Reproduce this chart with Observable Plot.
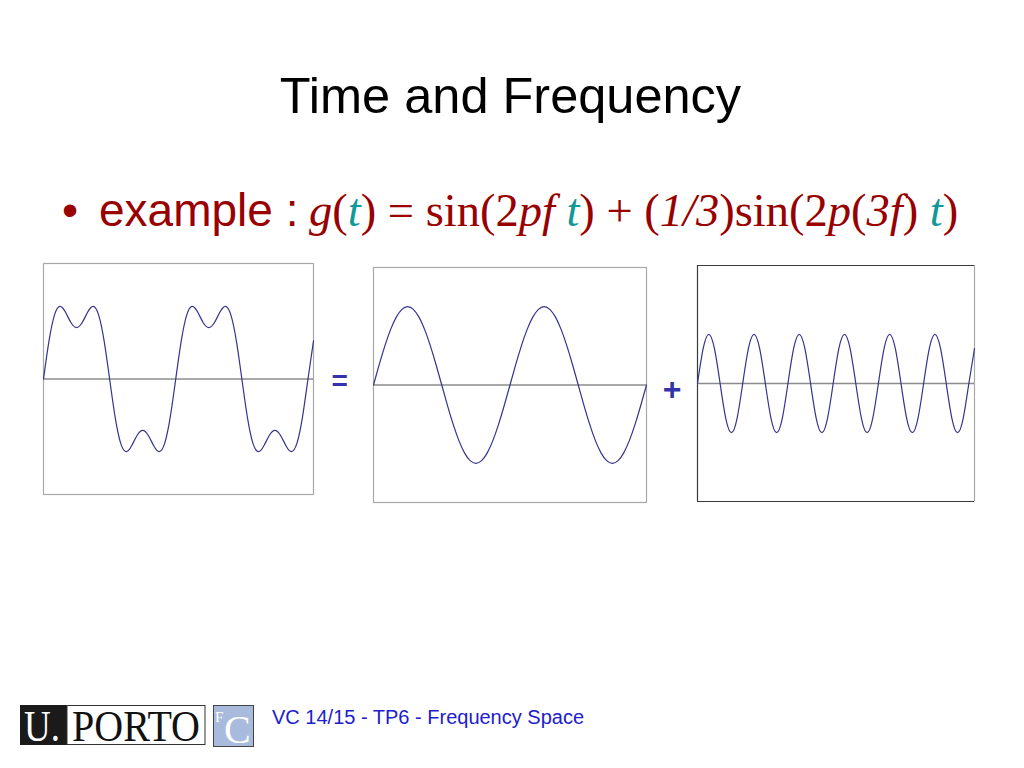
<!DOCTYPE html>
<html>
<head>
<meta charset="utf-8">
<script src="https://cdn.jsdelivr.net/npm/d3@7"></script>
<script src="https://cdn.jsdelivr.net/npm/@observablehq/plot@0.6"></script>
<style>
  html, body { margin: 0; padding: 0; background: #fff; }
  body { width: 1024px; height: 768px; position: relative; overflow: hidden; }
  .chart { position: absolute; }
  #overlay { position: absolute; left: 0; top: 0; }
</style>
</head>
<body>
<svg id="overlay" width="1024" height="768" xmlns="http://www.w3.org/2000/svg">
  <text x="510.5" y="113" text-anchor="middle" font-family="Liberation Sans, Arial, sans-serif" font-size="50.5" fill="#000">Time and Frequency</text>
  <text x="70" y="226" text-anchor="middle" font-family="Liberation Sans, Arial, sans-serif" font-size="46" fill="#990000">•</text>
  <text x="99" y="226" font-family="Liberation Sans, Arial, sans-serif" font-size="46" fill="#990000" style="white-space:pre">example :</text>
  <text x="309" y="226" font-family="Liberation Serif, Times New Roman, serif" font-size="46.5" fill="#990000" style="white-space:pre"><tspan font-style="italic">g</tspan><tspan>(</tspan><tspan font-style="italic" fill="#119999">t</tspan><tspan>) = sin(2</tspan><tspan font-style="italic">pf </tspan><tspan font-style="italic" fill="#119999">t</tspan><tspan>) + (</tspan><tspan font-style="italic">1/3</tspan><tspan>)sin(2</tspan><tspan font-style="italic">p</tspan><tspan>(</tspan><tspan font-style="italic">3f</tspan><tspan>) </tspan><tspan font-style="italic" fill="#119999">t</tspan><tspan>)</tspan></text>
  <text x="339.7" y="390" text-anchor="middle" font-family="Liberation Sans, Arial, sans-serif" font-weight="bold" font-size="28" fill="#3333aa">=</text>
  <text x="672" y="400" text-anchor="middle" font-family="Liberation Sans, Arial, sans-serif" font-weight="bold" font-size="32" fill="#3333aa">+</text>
  <rect x="20" y="705" width="47" height="40" fill="#1a1a1a"/>
  <rect x="67" y="705.5" width="138" height="39" fill="#fff" stroke="#333" stroke-width="1"/>
  <text x="24" y="741" font-family="Liberation Serif, Times New Roman, serif" font-size="44" fill="#fff" textLength="36" lengthAdjust="spacingAndGlyphs">U.</text>
  <text x="72" y="741" font-family="Liberation Serif, Times New Roman, serif" font-size="44" fill="#111" textLength="128" lengthAdjust="spacingAndGlyphs">PORTO</text>
  <rect x="213.5" y="705.5" width="40" height="41" fill="#a8bbdc" stroke="#444" stroke-width="1"/>
  <text x="215" y="722" font-family="Liberation Serif, Times New Roman, serif" font-size="15" fill="#fff">F</text>
  <text x="224" y="743" font-family="Liberation Serif, Times New Roman, serif" font-size="40" fill="#fff">C</text>
  <text x="272" y="724" font-family="Liberation Sans, Arial, sans-serif" font-size="20" fill="#2020cc">VC 14/15 - TP6 - Frequency Space</text>
</svg>
<div id="c1" class="chart" style="left:41px; top:261px;"></div>
<div id="c2" class="chart" style="left:371px; top:265px;"></div>
<div id="c3" class="chart" style="left:695px; top:263px;"></div>
<script>
const sumWave = [
  0, 0.495, 0.833, 0.943, 0.866, 0.730, 0.667, 0.730, 0.866, 0.943, 0.833, 0.495,
  0, -0.495, -0.833, -0.943, -0.866, -0.730, -0.667, -0.730, -0.866, -0.943, -0.833, -0.495,
  0, 0.495, 0.833, 0.943, 0.866, 0.730, 0.667, 0.730, 0.866, 0.943, 0.833, 0.495,
  0, -0.495, -0.833, -0.943, -0.866, -0.730, -0.667, -0.730, -0.866, -0.943, -0.833, -0.495,
  0, 0.495
];
const fundamentalWave = [
  0, 0.259, 0.5, 0.707, 0.866, 0.966, 1, 0.966, 0.866, 0.707, 0.5, 0.259,
  0, -0.259, -0.5, -0.707, -0.866, -0.966, -1, -0.966, -0.866, -0.707, -0.5, -0.259,
  0, 0.259, 0.5, 0.707, 0.866, 0.966, 1, 0.966, 0.866, 0.707, 0.5, 0.259,
  0, -0.259, -0.5, -0.707, -0.866, -0.966, -1, -0.966, -0.866, -0.707, -0.5, -0.259,
  0
];
const harmonicWave = [
  0, 0.236, 0.333, 0.236, 0, -0.236, -0.333, -0.236,
  0, 0.236, 0.333, 0.236, 0, -0.236, -0.333, -0.236,
  0, 0.236, 0.333, 0.236, 0, -0.236, -0.333, -0.236,
  0, 0.236, 0.333, 0.236, 0, -0.236, -0.333, -0.236,
  0, 0.236, 0.333, 0.236, 0, -0.236, -0.333, -0.236,
  0, 0.236, 0.333, 0.236, 0, -0.236, -0.333, -0.236,
  0, 0.236
];

const waveColor = "#34348c";
const axisColor = "#8c8c8c";
const frameColor = "#a8a8a8";

function panel(values, opts) {
  const n = values.length - 1;
  return Plot.plot({
    width: opts.width,
    height: opts.height,
    margin: 2,
    x: { domain: [0, n], axis: null },
    y: { domain: [-opts.ymax, opts.ymax], axis: null },
    marks: [
      ...(opts.darkFrame
        ? [
            Plot.ruleY([-opts.ymax, opts.ymax], { stroke: "#3a3a3a", strokeWidth: 1.2 }),
            Plot.ruleX([0], { stroke: "#3a3a3a", strokeWidth: 1.2 }),
            Plot.ruleX([n], { stroke: frameColor, strokeWidth: 1.2 })
          ]
        : [Plot.frame({ stroke: frameColor, strokeWidth: 1.2 })]),
      Plot.ruleY([0], { stroke: axisColor, strokeWidth: 1.3 }),
      Plot.lineY(values, { stroke: waveColor, strokeWidth: 1.2, curve: "natural" })
    ]
  });
}

document.getElementById("c1").append(panel(sumWave, { width: 274, height: 235, ymax: 1.5 }));
document.getElementById("c2").append(panel(fundamentalWave, { width: 277, height: 239, ymax: 1.5 }));
document.getElementById("c3").append(panel(harmonicWave, { width: 281, height: 240, ymax: 0.8, darkFrame: true }));
</script>
</body>
</html>
